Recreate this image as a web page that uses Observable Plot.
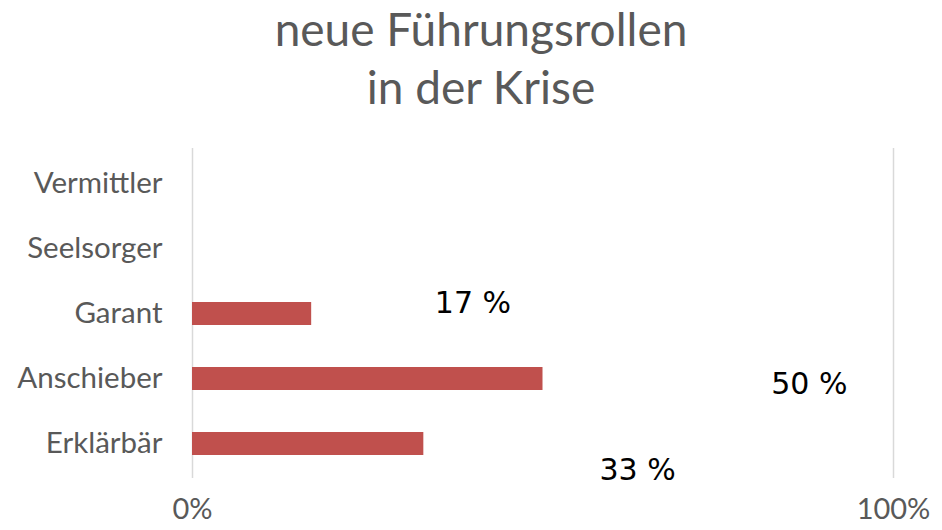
<!DOCTYPE html>
<html>
<head>
<meta charset="utf-8">
<script src="https://cdn.jsdelivr.net/npm/d3@7"></script>
<script src="https://cdn.jsdelivr.net/npm/@observablehq/plot@0.6"></script>
<style>
  body { margin: 0; background: #fff; }
  #title { font-family: Lato, sans-serif; font-size: 46px; color: #595959; text-align: center;
           line-height: 58px; padding-top: 0px; padding-left: 20px; height: 118px; box-sizing: border-box; }
</style>
</head>
<body>
<div id="title">neue Führungsrollen<br>in der Krise</div>
<div id="chart"></div>
<script>
const categories = ["Vermittler", "Seelsorger", "Garant", "Anschieber", "Erklärbär"];
const values = [0, 0, 17, 50, 33];
const labelText = [null, null, "17 %", "50 %", "33 %"];
const xTicks = [0, 100];

const data = categories.map((c, i) => ({category: c, value: values[i], label: labelText[i]}));
const labeled = data.filter(d => d.label);
// label placement (in x-scale percent units and pixel nudges) as in the original
const labelPlace = {"Garant": {x: 40, dy: -11}, "Anschieber": {x: 88, dy: 5}, "Erklärbär": {x: 63.5, dy: 26}};

const chart = Plot.plot({
  width: 942,
  height: 412,
  marginTop: 30,
  marginBottom: 52,
  marginLeft: 192,
  marginRight: 49,
  style: {fontFamily: "Lato, sans-serif", fontSize: "29px", color: "#595959", background: "#fff"},
  x: {domain: [0, 100], ticks: xTicks, tickFormat: d => d + "%", tickSize: 0, tickPadding: 20, label: null},
  y: {domain: categories, padding: 0.65, paddingOuter: 0.35, tickSize: 0, tickPadding: 30, label: null},
  marks: [
    Plot.ruleX(xTicks, {stroke: "#d9d9d9", strokeWidth: 1.5}),
    Plot.barX(data.filter(d => d.value > 0), {x: "value", y: "category", fill: "#c0504d"}),
    ...labeled.map(d => Plot.text([d], {
      x: () => labelPlace[d.category].x, y: "category", text: "label",
      dy: labelPlace[d.category].dy, fill: "#000",
      fontFamily: "DejaVu Sans, Verdana, sans-serif", fontSize: 30
    })),
    Plot.axisX({ticks: xTicks, tickFormat: d => d + "%", tickSize: 0, tickPadding: 20, fontSize: 29, fill: "#595959"}),
    Plot.axisY({tickSize: 0, tickPadding: 30, fontSize: 29.5, fill: "#595959"})
  ]
});
document.getElementById("chart").appendChild(chart);
</script>
</body>
</html>
